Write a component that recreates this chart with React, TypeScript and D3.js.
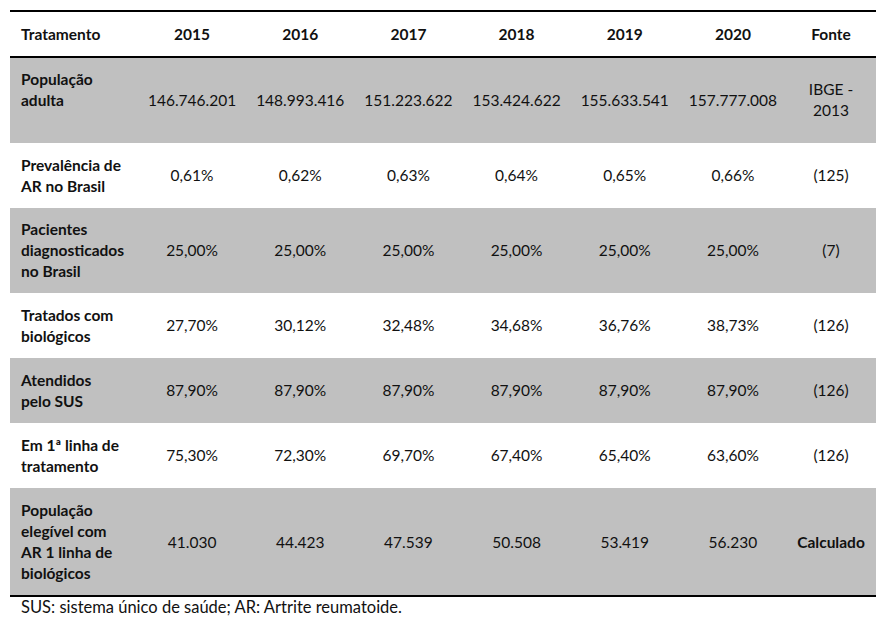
import React from "react";
import * as d3 from "d3";

const headerLabel = "Tratamento";
const years = ["2015", "2016", "2017", "2018", "2019", "2020"];
const sourceHeader = "Fonte";

const rowLabels: string[][] = [
  ["População", "adulta"],
  ["Prevalência de", "AR no Brasil"],
  ["Pacientes", "diagnosticados", "no Brasil"],
  ["Tratados com", "biológicos"],
  ["Atendidos", "pelo SUS"],
  ["Em 1ª linha de", "tratamento"],
  ["População", "elegível com", "AR 1 linha de", "biológicos"],
];

const populacaoAdulta = ["146.746.201", "148.993.416", "151.223.622", "153.424.622", "155.633.541", "157.777.008"];
const prevalencia = ["0,61%", "0,62%", "0,63%", "0,64%", "0,65%", "0,66%"];
const diagnosticados = ["25,00%", "25,00%", "25,00%", "25,00%", "25,00%", "25,00%"];
const tratadosBiologicos = ["27,70%", "30,12%", "32,48%", "34,68%", "36,76%", "38,73%"];
const atendidosSUS = ["87,90%", "87,90%", "87,90%", "87,90%", "87,90%", "87,90%"];
const primeiraLinha = ["75,30%", "72,30%", "69,70%", "67,40%", "65,40%", "63,60%"];
const populacaoElegivel = ["41.030", "44.423", "47.539", "50.508", "53.419", "56.230"];

const rowValues = [populacaoAdulta, prevalencia, diagnosticados, tratadosBiologicos, atendidosSUS, primeiraLinha, populacaoElegivel];
const sources: string[][] = [["IBGE -", "2013"], ["(125)"], ["(7)"], ["(126)"], ["(126)"], ["(126)"], ["Calculado"]];
const footnote = "SUS: sistema único de saúde; AR: Artrite reumatoide.";

// layout
const W = 887;
const H = 624;
const left = 10;
const right = 876;
const tableTop = 11;
const headerBottom = 57;
const rowHeights = [86, 65, 85, 65, 65, 65, 108];
const lineGap = 21;
const FONT = "Lato, 'Open Sans', sans-serif";
const FS = 15.5;
const grey = "#c0c0c0";
const ink = "#111111";

export default function App() {
  const x = d3.scaleBand<string>().domain(years).range([138, 787]);
  const srcX = 831;
  const rowTops: number[] = [];
  let acc = headerBottom;
  rowHeights.forEach((h) => {
    rowTops.push(acc);
    acc += h;
  });
  const tableBottom = acc;
  const headerMid = (tableTop + headerBottom) / 2;

  const lines = (arr: string[], cx: number, cy: number, anchor: string, bold: boolean, shift = 0) => {
    const n = arr.length;
    return arr.map((t, i) => (
      <text
        key={i}
        x={cx}
        y={cy + (i - (n - 1) / 2) * lineGap + shift}
        dy="0.38em"
        textAnchor={anchor}
        fontWeight={bold ? 700 : 400}
      >
        {t}
      </text>
    ));
  };

  return (
    <svg width={W} height={H} style={{ display: "block", position: "absolute", left: 0, top: 0, background: "#fff" }}>
      <rect x={0} y={0} width={W} height={H} fill="#fff" />
      {rowTops.map((t, i) =>
        i % 2 === 0 ? <rect key={i} x={left} y={t} width={right - left} height={rowHeights[i]} fill={grey} /> : null
      )}
      <g fontFamily={FONT} fontSize={FS} fill={ink}>
        <text x={21} y={headerMid} dy="0.38em" fontWeight={700}>{headerLabel}</text>
        {years.map((y) => (
          <text key={y} x={x(y)! + x.bandwidth() / 2} y={headerMid} dy="0.38em" textAnchor="middle" fontWeight={700}>
            {y}
          </text>
        ))}
        <text x={srcX} y={headerMid} dy="0.38em" textAnchor="middle" fontWeight={700}>{sourceHeader}</text>

        {rowLabels.map((lab, r) => {
          const cy = rowTops[r] + rowHeights[r] / 2;
          return (
            <g key={r}>
              {lines(lab, 21, cy, "start", true, r === 0 ? -lineGap / 2 : 0)}
              {rowValues[r].map((v, c) => (
                <text key={c} x={x(years[c])! + x.bandwidth() / 2} y={cy} dy="0.38em" textAnchor="middle">
                  {v}
                </text>
              ))}
              {lines(sources[r], srcX, cy, "middle", r === 6)}
            </g>
          );
        })}
        <text x={21} y={607} dy="0.38em" fontSize={16.5}>{footnote}</text>
      </g>
      <line x1={left} x2={right} y1={tableTop} y2={tableTop} stroke="#000" strokeWidth={2} />
      <line x1={left} x2={right} y1={headerBottom} y2={headerBottom} stroke="#000" strokeWidth={2} />
      <line x1={left} x2={right} y1={tableBottom} y2={tableBottom} stroke="#000" strokeWidth={2} />
    </svg>
  );
}
